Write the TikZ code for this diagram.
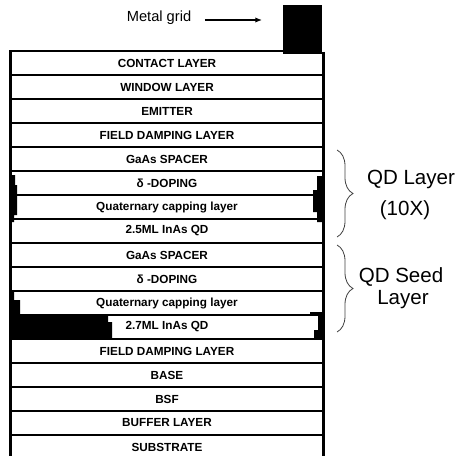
\documentclass[tikz,border=0pt]{standalone}
\usepackage{fontspec}
\setmainfont{Liberation Sans}
\usetikzlibrary{arrows.meta, decorations.pathreplacing}

\begin{document}
\begin{tikzpicture}[x=0.75pt, y=-0.75pt,
    layer/.style={font=\fontsize{8.8}{10}\selectfont\bfseries, inner sep=0pt},
    side/.style={font=\fontsize{15.4}{18}\selectfont, inner sep=0pt},
    sep/.style={line width=1.5pt},
    thinsep/.style={line width=0.8pt},
    wall/.style={line width=2.2pt},
    brace/.style={decorate, decoration={brace, amplitude=12pt}, black!75, line width=0.6pt}]

    \useasboundingbox (0,0) rectangle (460,456);

    % === Metal grid ===
    \fill (283,5) rectangle (322,54);
    \node[font=\fontsize{11}{13}\selectfont, inner sep=0pt] (gridlbl) at (159,18) {Metal grid};
    \coordinate (gridtip) at (262,20);
    \draw[-{Latex[length=5pt,width=4pt]}, line width=0.9pt] ([xshift=10pt,yshift=-1.5pt]gridlbl.east) -- (gridtip);

    % === Layer stack ===
    \foreach \name [count=\i] in {CONTACT LAYER, WINDOW LAYER, EMITTER, FIELD DAMPING LAYER,
        GaAs SPACER, δ -DOPING, Quaternary capping layer, 2.5ML InAs QD,
        GaAs SPACER, δ -DOPING, Quaternary capping layer, 2.7ML InAs QD,
        FIELD DAMPING LAYER, BASE, BSF, BUFFER LAYER, SUBSTRATE}
        \node[layer] (layer\i) at (167,{39+24*\i}) {\name};

    % Separating lines
    \foreach \y in {75,99,123,147,195,219,339,363,387,411,435}
        \draw[sep] (10,\y) -- (323,\y);
    \foreach \y in {171,243,267,291,315}
        \draw[thinsep] (10,\y) -- (323,\y);

    % Outer walls
    \draw[wall] (10.5,456) -- (10.5,51) -- (284,51);
    \draw[wall] (323.5,52) -- (323.5,456);

    % Rough edges of the dot layers
    \fill (10,175) -- (15,175) -- (15,185) -- (17,185) -- (17,215) -- (14,215) -- (14,222) -- (10,222) -- cycle;
    \fill (323,176) -- (317,176) -- (317,190) -- (313,190) -- (313,212) -- (317,212) -- (317,222) -- (323,222) -- cycle;
    \fill (10,291) -- (14,291) -- (14,300) -- (20,300) -- (20,315) -- (108,315) -- (108,322) -- (112,322)
        -- (112,338) -- (10,338) -- cycle;
    \fill (323,312) -- (310,312) -- (310,315) -- (318,315) -- (318,330) -- (314,330) -- (314,338) -- (323,338) -- cycle;

    % === Braces and labels ===
    \draw[brace] (337,150) -- (337,237);
    \draw[brace] (337,245) -- (337,332);

    \node[side] (qdlayer) at (411,179) {QD Layer};
    \node[side] (qdtimes) at (405,210) {(10X)};
    \node[side] (seed) at (401,277) {QD Seed};
    \node[side] (seedlayer) at (403,300) {Layer};

\end{tikzpicture}
\end{document}
